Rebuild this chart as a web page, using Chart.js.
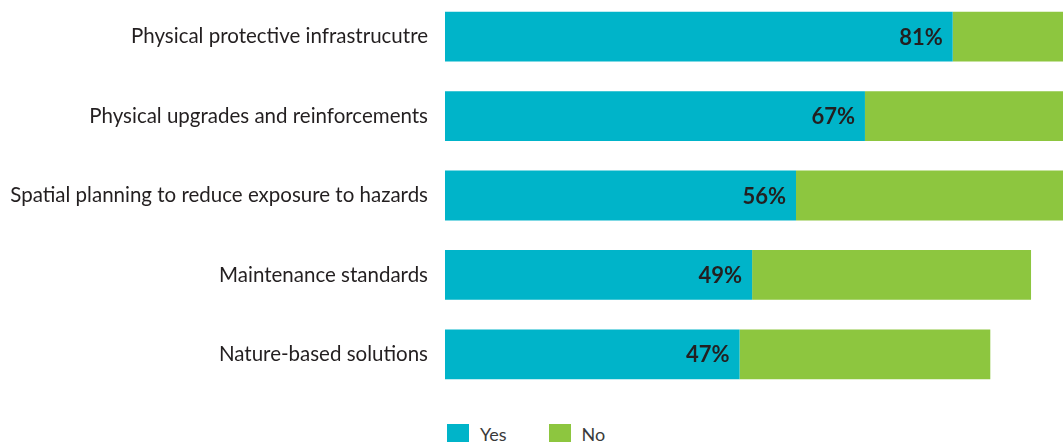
<!DOCTYPE html>
<html>
<head>
<meta charset="utf-8">
<script src="https://cdn.jsdelivr.net/npm/chart.js@4/dist/chart.umd.min.js"></script>
<style>
  html, body { margin: 0; padding: 0; background: #fff; }
  #wrap { position: relative; width: 1063px; height: 442px; overflow: hidden; }
  #plot { position: absolute; left: 0; top: -3px; width: 1063px; height: 397px; }
  #legend { position: absolute; left: 447px; top: 423px; font: 18px Lato, sans-serif; color: #3a3a3a; }
  #legend span.item { display: inline-flex; align-items: center; margin-right: 42px; }
  #legend i { display: inline-block; width: 22px; height: 20px; margin-right: 11px; }
</style>
</head>
<body>
<div id="wrap">
  <div id="plot"><canvas id="chart"></canvas></div>
  <div id="legend"></div>
</div>
<script>
const CATEGORIES = [
  'Physical protective infrastrucutre',
  'Physical upgrades and reinforcements',
  'Spatial planning to reduce exposure to hazards',
  'Maintenance standards',
  'Nature-based solutions',
]
const YES = [81, 67, 56, 49, 47]
const NO = [19, 33, 44, 44.5, 40]

const YES_COLOR = '#00B4C9'
const NO_COLOR = '#8DC63F'
const TEXT = '#231F20'
const FONT = "Lato, 'Open Sans', sans-serif"

// value labels inside the Yes bars, right aligned
const yesLabels = {
  id: 'yesLabels',
  afterDatasetsDraw(chart) {
    const { ctx } = chart
    const meta = chart.getDatasetMeta(0)
    ctx.save()
    ctx.font = `bold 22px ${FONT}`
    ctx.fillStyle = TEXT
    ctx.textAlign = 'right'
    ctx.textBaseline = 'middle'
    meta.data.forEach((bar, i) => {
      ctx.fillText(YES[i] + '%', bar.x - 10, bar.y + 1)
    })
    ctx.restore()
  }
}

new Chart(document.getElementById('chart'), {
  type: 'bar',
  data: {
    labels: CATEGORIES,
    datasets: [
      { label: 'Yes', data: YES, backgroundColor: YES_COLOR },
      { label: 'No', data: NO, backgroundColor: NO_COLOR },
    ],
  },
  options: {
    indexAxis: 'y',
    animation: false,
    responsive: true,
    maintainAspectRatio: false,
    layout: { padding: 0 },
    datasets: { bar: { barPercentage: 1, categoryPercentage: 0.627, borderWidth: 0 } },
    scales: {
      x: { stacked: true, min: 0, max: 98.6, display: false },
      y: {
        stacked: true,
        grid: { display: false, drawTicks: false },
        border: { display: false },
        ticks: { color: TEXT, font: { family: FONT, size: 20.5 }, padding: 17 },
        afterFit(scale) {
          scale.width = 445
          scale.paddingTop = 0
          scale.paddingBottom = 0
        },
      },
    },
    plugins: {
      legend: { display: false },
      tooltip: { enabled: false },
    },
  },
  plugins: [yesLabels],
})

// legend under the bars
const legend = document.getElementById('legend')
;[['Yes', YES_COLOR], ['No', NO_COLOR]].forEach(([name, color]) => {
  const item = document.createElement('span')
  item.className = 'item'
  item.innerHTML = `<i style="background:${color}"></i>${name}`
  legend.appendChild(item)
})
</script>
</body>
</html>
